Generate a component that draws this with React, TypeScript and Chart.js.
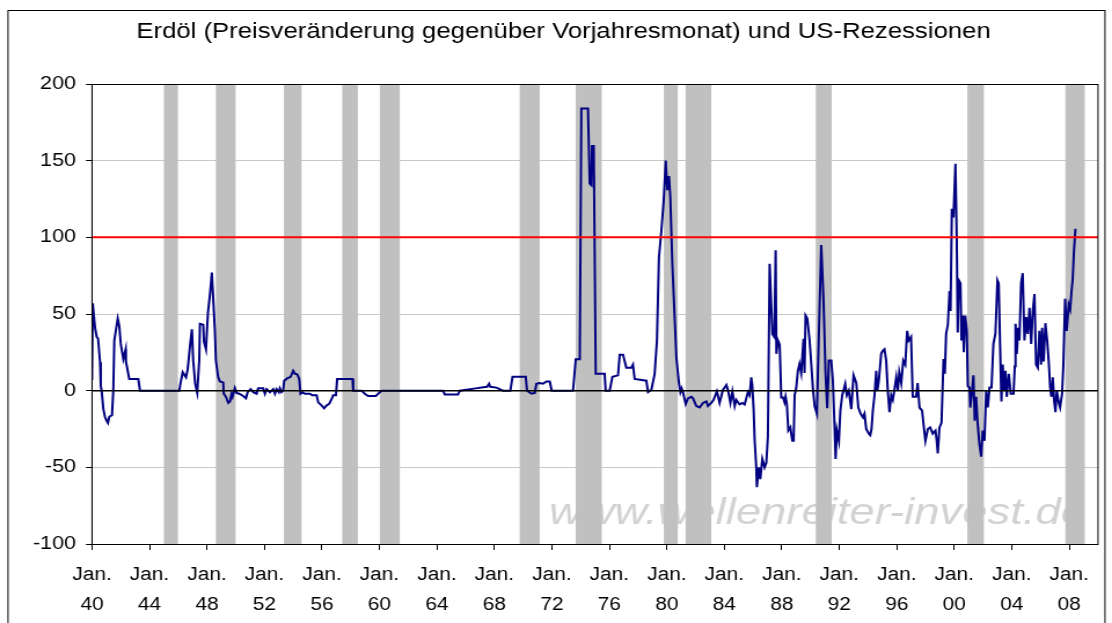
import React, { useEffect, useRef } from 'react';
import { Chart, registerables } from 'chart.js';

Chart.register(...registerables);

// ---- data ----
const titleText = 'Erdöl (Preisveränderung gegenüber Vorjahresmonat) und US-Rezessionen';
const watermarkText = 'www.wellenreiter-invest.de';

const obsYears = [
  1940.00, 1940.05, 1940.09, 1940.21, 1940.33, 1940.42, 1940.56, 1940.61, 1940.67, 1940.79,
  1940.90, 1941.02, 1941.11, 1941.20, 1941.39, 1941.48, 1941.55, 1941.79, 1941.90, 1942.00,
  1942.18, 1942.34, 1942.36, 1942.59, 1943.22, 1943.34, 1946.07, 1946.17, 1946.31, 1946.54,
  1946.66, 1946.82, 1946.95, 1947.04, 1947.18, 1947.32, 1947.46, 1947.51, 1947.74, 1947.79,
  1947.93, 1948.07, 1948.21, 1948.34, 1948.55, 1948.62, 1948.78, 1948.90, 1949.13, 1949.17,
  1949.32, 1949.48, 1949.60, 1949.71, 1949.78, 1949.94, 1950.06, 1950.24, 1950.52, 1950.71,
  1950.83, 1951.04, 1951.22, 1951.45, 1951.56, 1951.91, 1952.03, 1952.15, 1952.38, 1952.61,
  1952.73, 1952.84, 1953.00, 1953.07, 1953.19, 1953.30, 1953.37, 1953.58, 1953.82, 1954.00,
  1954.12, 1954.28, 1954.42, 1954.51, 1954.65, 1954.81, 1955.16, 1955.32, 1955.63, 1955.74,
  1955.97, 1956.15, 1956.32, 1956.50, 1956.67, 1956.78, 1956.97, 1957.06, 1958.13, 1958.17,
  1958.76, 1958.98, 1959.21, 1959.75, 1960.03, 1960.15, 1964.43, 1964.55, 1965.47, 1965.59,
  1966.70, 1967.10, 1967.49, 1967.63, 1967.71, 1968.14, 1968.60, 1969.11, 1969.26, 1970.18,
  1970.27, 1970.58, 1970.81, 1970.92, 1971.15, 1971.38, 1971.62, 1971.85, 1971.99, 1973.47,
  1973.66, 1973.94, 1974.05, 1974.51, 1974.63, 1974.75, 1974.79, 1974.91, 1975.05, 1975.67,
  1975.74, 1976.02, 1976.21, 1976.60, 1976.72, 1976.95, 1977.18, 1977.53, 1977.64, 1977.76,
  1978.57, 1978.69, 1978.92, 1979.15, 1979.31, 1979.45, 1979.62, 1979.78, 1979.92, 1980.03,
  1980.15, 1980.24, 1980.38, 1980.54, 1980.66, 1980.84, 1980.94, 1981.03, 1981.12, 1981.31,
  1981.47, 1981.70, 1981.82, 1982.05, 1982.28, 1982.51, 1982.75, 1982.86, 1983.09, 1983.25,
  1983.48, 1983.67, 1983.90, 1984.14, 1984.25, 1984.42, 1984.56, 1984.72, 1984.83, 1985.06,
  1985.25, 1985.41, 1985.64, 1985.76, 1985.87, 1985.94, 1986.04, 1986.11, 1986.22, 1986.26,
  1986.40, 1986.50, 1986.64, 1986.80, 1986.92, 1987.03, 1987.15, 1987.34, 1987.48, 1987.57,
  1987.62, 1987.73, 1987.85, 1987.96, 1988.08, 1988.19, 1988.26, 1988.35, 1988.45, 1988.59,
  1988.73, 1988.82, 1988.89, 1989.00, 1989.12, 1989.23, 1989.35, 1989.51, 1989.58, 1989.65,
  1989.77, 1989.93, 1990.00, 1990.16, 1990.28, 1990.44, 1990.51, 1990.74, 1990.90, 1991.04,
  1991.16, 1991.27, 1991.44, 1991.55, 1991.67, 1991.74, 1991.83, 1991.97, 1992.07, 1992.20,
  1992.29, 1992.41, 1992.52, 1992.66, 1992.83, 1992.99, 1993.18, 1993.32, 1993.48, 1993.64,
  1993.75, 1993.87, 1994.05, 1994.15, 1994.24, 1994.33, 1994.45, 1994.57, 1994.64, 1994.75,
  1994.91, 1995.02, 1995.14, 1995.26, 1995.37, 1995.49, 1995.61, 1995.72, 1995.84, 1995.96,
  1996.07, 1996.17, 1996.31, 1996.45, 1996.59, 1996.72, 1996.83, 1996.99, 1997.11, 1997.34,
  1997.45, 1997.58, 1997.76, 1997.86, 1997.99, 1998.16, 1998.32, 1998.50, 1998.69, 1998.78,
  1998.85, 1998.97, 1999.11, 1999.25, 1999.34, 1999.43, 1999.55, 1999.67, 1999.74, 1999.83,
  1999.94, 2000.08, 2000.17, 2000.24, 2000.31, 2000.43, 2000.50, 2000.59, 2000.66, 2000.76,
  2000.87, 2000.94, 2001.06, 2001.11, 2001.24, 2001.33, 2001.42, 2001.52, 2001.61, 2001.75,
  2001.87, 2001.98, 2002.10, 2002.22, 2002.33, 2002.45, 2002.59, 2002.72, 2002.86, 2003.00,
  2003.09, 2003.19, 2003.28, 2003.37, 2003.47, 2003.56, 2003.65, 2003.79, 2003.93, 2004.12,
  2004.21, 2004.26, 2004.35, 2004.44, 2004.53, 2004.65, 2004.76, 2004.88, 2005.00, 2005.11,
  2005.23, 2005.35, 2005.46, 2005.58, 2005.69, 2005.81, 2005.92, 2006.04, 2006.11, 2006.22,
  2006.34, 2006.46, 2006.57, 2006.67, 2006.76, 2006.85, 2006.95, 2007.04, 2007.13, 2007.27,
  2007.36, 2007.50, 2007.59, 2007.71, 2007.82, 2007.96, 2008.06, 2008.15, 2008.24, 2008.33,
  2008.43,
];

const oilYoY = [
  7, 57, 57, 41, 35, 34, 18.5, 3, 0, -12,
  -17, -19.6, -21, -17, -16, 0, 32.7, 47, 42, 30.5,
  20.7, 27, 19, 7.6, 7.6, 0, 0, 5.4, 12, 8.7,
  14, 29.4, 40, 19.6, 4.4, -1.3, 19.6, 43.6, 43, 32,
  27, 51, 63, 77, 39, 19.6, 8.7, 6, 5.4, -2,
  -4, -8, -7, -2, -4, 1.7, -1.5, -2, -3.5, -5,
  -1, 1, -1, -2, 1.5, 1.5, -2, 1, -1, 1,
  -2, 1, -1, 1.5, -1, 0, 6.5, 8, 9, 13,
  11, 10.6, 7.6, -2, -1, -2, -2, -3, -3, -7.6,
  -9.6, -11.5, -9.6, -8.6, -5.6, -3, -3, 7.6, 7.6, 0,
  0, -2, -3.5, -3.5, -1, 0, 0, -2.5, -2.5, 0,
  1.5, 2, 2.5, 4.5, 2.5, 2, 0, 0, 9, 9,
  0, -2, -1.5, 4.5, 5, 4.5, 6, 6, 0, 0,
  20.5, 20.5, 184, 184, 135, 134, 159.5, 159.5, 11, 11,
  0, 0, 9, 10, 23.5, 23.5, 15, 15, 17, 7.6,
  6.5, -1, 0.5, 11, 32.7, 87, 104.6, 124, 150, 130.7,
  139.9, 126, 82.8, 48, 21.8, 5, -1, 1.5, -1, -8.7,
  -5, -4, -5, -10, -11, -8, -7, -10, -8, -6,
  -0.5, -8, 0.5, 3.7, 0.5, -8, -0.5, -10, -6, -9,
  -8, -9, -1, -3, 8.7, 4, -13, -32.7, -50, -63,
  -50, -57.7, -44.6, -50, -47, -30, 82.8, 37, 35, 91.5,
  24, 32.7, 30, -4.4, -4.4, -7.6, -4, -9, -26, -24,
  -32.7, -32.7, -3, 1.7, 13, 17.4, 11.5, 33.8, 11.5, 49,
  47, 32.7, 24, 1.7, -10, -15, 13, 95, 58.8, 11,
  -11.5, 19.6, 19.6, 6.5, -24, -44.6, -26, -32.7, -13, -3,
  0, 4.4, -3, 0, -12, 10, 5, -11, -15, -17.4,
  -15, -25, -28, -29, -25, -13, -3, 13, 0, 6.5,
  24, 26, 27, 19.6, 0, -14, -3, -6, 1, 8.7,
  0, 12, 5, 19.6, 17, 39, 32.7, 35, -4, -4,
  5, -11, -13, -22, -32.7, -25, -24, -28, -26, -32.7,
  -41, -24, -21, 20.7, 11, 37, 43, 65, 52, 118.6,
  113, 148, 98, 38, 72, 70, 32.7, 49, 25, 49,
  39, 3, 2, -11, 0, 10, -19.6, -4, -19.6, -35,
  -43, -26, -32.7, 0, -11, 2, 2, 30.5, 37, 72,
  70, 28, -7, 17, 0, 13, -4, 11, -2, -2,
  16, 43.6, 24, 41, 32.7, 70, 76.6, 32.7, 48, 37,
  54, 30.5, 52, 63, 17, 15, 39, 17, 41, 19,
  44, 32.7, 19, 2, -4, 8.7, -7, -14, 0, -8,
  -11, -2, 17, 60, 39, 56, 53, 64, 73, 91.5,
  105.6,
];

const recessionStart = [1945.0, 1948.62, 1953.35, 1957.41, 1960.03, 1969.76, 1973.66, 1979.79, 1981.30, 1990.36, 2000.91, 2007.73];
const recessionEnd = [1945.98, 1949.99, 1954.58, 1958.50, 1961.42, 1971.15, 1975.47, 1980.76, 1983.09, 1991.47, 2002.06, 2009.08];

const thresholdLevel = 100;
const zeroLevel = 0;
const yTickValues = [-100, -50, 0, 50, 100, 150, 200];
const xTickYears = [1940, 1944, 1948, 1952, 1956, 1960, 1964, 1968, 1972, 1976, 1980, 1984, 1988, 1992, 1996, 2000, 2004, 2008];
const xTickMonth = 'Jan.';
const xMin = 1940;
const xMax = 2010;

const FONT = "'Liberation Sans', Arial, sans-serif";

// the reference picture is horizontally stretched; draw on a narrower canvas and stretch it
const PAGE_W = 1112;
const PAGE_H = 623;
const CANVAS_W = 960;
const SX = PAGE_W / CANVAS_W;

const decorPlugin = {
  id: 'decor',
  beforeDatasetsDraw(chart: any) {
    const { ctx, chartArea, scales } = chart;
    const xs = scales.x;
    ctx.save();
    // watermark (under the recession bands)
    ctx.font = `italic 37px ${FONT}`;
    ctx.fillStyle = '#d2d2d2';
    ctx.textBaseline = 'alphabetic';
    const w = ctx.measureText(watermarkText).width;
    const targetW = 537 / SX;
    const left = chartArea.right - 12 / SX - targetW;
    ctx.translate(left, chartArea.bottom - 20);
    ctx.scale(targetW / w, 1);
    ctx.fillText(watermarkText, 0, 0);
    ctx.restore();

    ctx.save();
    ctx.beginPath();
    ctx.rect(chartArea.left, chartArea.top, chartArea.right - chartArea.left, chartArea.bottom - chartArea.top);
    ctx.clip();
    ctx.fillStyle = '#c0c0c0';
    for (let i = 0; i < recessionStart.length; i++) {
      const x1 = xs.getPixelForValue(recessionStart[i]);
      const x2 = xs.getPixelForValue(recessionEnd[i]);
      ctx.fillRect(x1, chartArea.top, x2 - x1, chartArea.bottom - chartArea.top);
    }
    ctx.restore();
  },
  afterDraw(chart: any) {
    const { ctx, chartArea } = chart;
    ctx.save();
    ctx.strokeStyle = '#000';
    ctx.lineWidth = 1;
    ctx.strokeRect(chartArea.left, Math.round(chartArea.top) + 0.5,
      chartArea.right - chartArea.left, Math.round(chartArea.bottom - chartArea.top));
    // outer chart frame
    ctx.strokeRect(8 / SX, 10.5, 1097 / SX, 700);
    // chart title
    ctx.fillStyle = '#000';
    ctx.font = `22.2px ${FONT}`;
    ctx.textAlign = 'center';
    ctx.textBaseline = 'middle';
    ctx.fillText(titleText, 563.5 / SX, 32);
    ctx.restore();
  },
};

export default function App() {
  const canvasRef = useRef<HTMLCanvasElement | null>(null);

  useEffect(() => {
    const canvas = canvasRef.current;
    if (!canvas) return;
    const seriesPoints = obsYears.map((yr, i) => ({ x: yr, y: oilYoY[i] }));
    const chart = new Chart(canvas, {
      type: 'line',
      data: {
        datasets: [
          {
            label: 'Schwelle',
            data: [{ x: xMin, y: thresholdLevel }, { x: xMax, y: thresholdLevel }],
            borderColor: '#ff0000',
            borderWidth: 2,
            pointRadius: 0,
          },
          {
            label: 'Null',
            data: [{ x: xMin, y: zeroLevel }, { x: xMax, y: zeroLevel }],
            borderColor: '#000000',
            borderWidth: 1.5,
            pointRadius: 0,
          },
          {
            label: 'Erdöl',
            data: seriesPoints,
            borderColor: '#000080',
            borderWidth: 2,
            pointRadius: 0,
            tension: 0,
          },
        ],
      },
      options: {
        responsive: false,
        animation: false,
        devicePixelRatio: 1,
        layout: { padding: { left: 0, right: (PAGE_W - 1098) / SX, top: 84, bottom: 0 } },
        plugins: {
          legend: { display: false },
          tooltip: { enabled: false },
          title: { display: false },
        },
        scales: {
          x: {
            type: 'linear',
            min: xMin,
            max: xMax,
            afterFit: (s: any) => { s.height = 79; },
            afterBuildTicks: (s: any) => { s.ticks = xTickYears.map((v) => ({ value: v })); },
            grid: { drawOnChartArea: false, drawTicks: true, tickLength: 6, color: '#000' },
            border: { display: true, color: '#000', width: 1 },
            ticks: {
              autoSkip: false,
              maxRotation: 0,
              color: '#000',
              padding: 10,
              font: { family: FONT, size: 18, lineHeight: 30 / 18 },
              callback: (v: any) => [xTickMonth, String(Number(v) % 100).padStart(2, '0')],
            },
          },
          y: {
            type: 'linear',
            min: -100,
            max: 200,
            afterFit: (s: any) => { s.width = 92 / SX; },
            afterBuildTicks: (s: any) => { s.ticks = yTickValues.map((v) => ({ value: v })); },
            grid: { color: '#c8c8c8', lineWidth: 1, tickColor: '#000', tickLength: 6 / SX },
            border: { display: true, color: '#000', width: 1 },
            ticks: {
              color: '#000',
              padding: 10 / SX,
              font: { family: FONT, size: 18.6 },
            },
          },
        },
      },
      plugins: [decorPlugin],
    });
    return () => chart.destroy();
  }, []);

  return (
    <div style={{ position: 'fixed', left: 0, top: 0, width: PAGE_W, height: PAGE_H, background: '#fff', overflow: 'hidden' }}>
      <div style={{ width: CANVAS_W, height: PAGE_H, transform: `scaleX(${SX})`, transformOrigin: '0 0' }}>
        <canvas ref={canvasRef} width={CANVAS_W} height={PAGE_H} style={{ display: 'block' }} />
      </div>
    </div>
  );
}
